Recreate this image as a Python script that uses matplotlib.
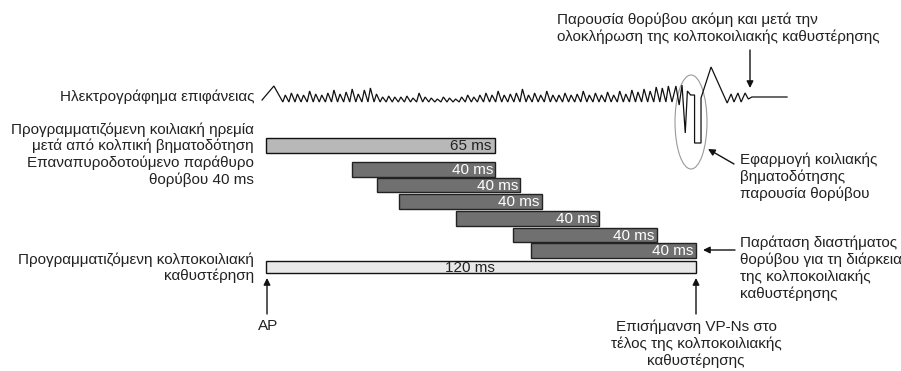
import numpy as np
import matplotlib
matplotlib.use("Agg")
import matplotlib.pyplot as plt
import matplotlib.transforms as mtransforms
from matplotlib.patches import Ellipse

plt.rcParams['font.family'] = ['Liberation Sans', 'DejaVu Sans']

# timing data (ms)
av_delay = 120
quiet_end = 64          # drawn length of the 65 ms bar
quiet_label = "65 ms"
noise_start = [24, 31, 37, 53, 69, 74]
noise_end = [64, 71, 77, 93, 109, 120]
noise_label = "40 ms"
av_label = "120 ms"

# surface ECG: tooth heights (px above baseline) of the noise
tooth_h = [7, 9, 8, 7, 11, 8, 7, 9, 12, 8, 10, 13, 8, 12, 14, 8,
           5, 6, 5, 5, 6, 4, 9, 5, 4, 3, 5, 4, 3, 5, 7, 5,
           7, 9, 7, 11, 7, 8, 9, 13, 7, 9, 7, 11, 7, 7, 9, 7, 8, 11, 7, 9,
           7, 10, 7, 11, 8, 12, 10, 13, 11, 15, 14, 16]
p_wave_t = [-1.1, 2.2, 4.7]
p_wave_y = [100, 86, 102]
pace_t = [113.3, 114.4, 115.3, 116.1, 117.0, 117.6, 118.5, 119.6, 119.6, 121.4,
          121.4, 124.2, 128.7, 129.8, 130.6, 131.7, 132.6, 133.7, 134.6, 135.6, 145.4]
pace_y = [102, 86, 105, 85, 133, 91, 95, 95, 143, 143,
          98, 67, 103, 94, 102, 93, 102, 93, 99, 97, 97]

W, H = 901, 371
T0 = 266              # pixel of AP
PX_MS = 430 / 120     # pixels per ms

fig = plt.figure(figsize=(W / 100, H / 100), dpi=100)
ax = fig.add_axes([0, 0, 1, 1])
ax.set_xlim(-T0 / PX_MS, (W - T0) / PX_MS)
ax.set_ylim(H, 0)
ax.axis('off')
pix = mtransforms.Affine2D().scale(1 / W, -1 / H).translate(0, 1) + fig.transFigure

fs = 11
tc = '#222222'

# ECG trace: each tooth rises steeply then falls back
base = 102
edges = np.linspace(4.7, 113.3, len(tooth_h) + 1)
ecg_t = list(p_wave_t)
ecg_y = list(p_wave_y)
for i, h in enumerate(tooth_h):
    ecg_t += [edges[i] + 0.4 * (edges[i + 1] - edges[i]), edges[i + 1]]
    ecg_y += [base - h, base]
ecg_t += pace_t[1:]
ecg_y += pace_y[1:]
ax.plot(ecg_t, ecg_y, color='#111111', lw=0.9, solid_joinstyle='miter')

# bars
ax.barh(145.5, quiet_end, left=0, height=15, color='#b8b8b8', edgecolor='#111111', lw=1)
ax.text(quiet_end - 1.1, 146, quiet_label, ha='right', va='center', fontsize=fs, color=tc)
rows = [169.5, 185, 201.5, 218.5, 235, 250.5]
for s, e, y in zip(noise_start, noise_end, rows):
    ax.barh(y, e - s, left=s, height=14.5, color='#707070', edgecolor='#222222', lw=1)
    ax.text(e - 0.6, y + 0.5, noise_label, ha='right', va='center', fontsize=fs, color='white')
ax.barh(267, av_delay, left=0, height=12, color='#e8e8e8', edgecolor='#111111', lw=1)
ax.text(57, 267.5, av_label, ha='center', va='center', fontsize=fs, color=tc)

# left labels
left_lines = [("Ηλεκτρογράφημα επιφάνειας", 97),
              ("Προγραμματιζόμενη κοιλιακή ηρεμία", 130),
              ("μετά από κολπική βηματοδότηση", 146),
              ("Επαναπυροδοτούμενο παράθυρο", 163),
              ("θορύβου 40 ms", 180),
              ("Προγραμματιζόμενη κολποκοιλιακή", 260),
              ("καθυστέρηση", 276)]
for s, y in left_lines:
    ax.text(254, y, s, transform=pix, ha='right', va='center', fontsize=fs, color=tc)

# right / top annotations
for s, y in [("Παρουσία θορύβου ακόμη και μετά την", 20),
             ("ολοκλήρωση της κολποκοιλιακής καθυστέρησης", 37)]:
    ax.text(557, y, s, transform=pix, ha='left', va='center', fontsize=fs, color=tc)
for s, y in [("Εφαρμογή κοιλιακής", 160), ("βηματοδότησης", 177), ("παρουσία θορύβου", 194)]:
    ax.text(740, y, s, transform=pix, ha='left', va='center', fontsize=fs, color=tc)
for s, y in [("Παράταση διαστήματος", 243), ("θορύβου για τη διάρκεια", 260),
             ("της κολποκοιλιακής", 277), ("καθυστέρησης", 294)]:
    ax.text(740, y, s, transform=pix, ha='left', va='center', fontsize=fs, color=tc)
ax.text(268, 326, "AP", transform=pix, ha='center', va='center', fontsize=fs, color=tc)
for s, y in [("Επισήμανση VP-Ns στο", 327), ("τέλος της κολποκοιλιακής", 344),
             ("καθυστέρησης", 361)]:
    ax.text(696, y, s, transform=pix, ha='center', va='center', fontsize=fs, color=tc)

# arrows
ap = dict(arrowstyle='-|>', color='#111111', lw=1, mutation_scale=10, shrinkA=0, shrinkB=0)
arrows = [((750, 88), (750, 50)),
          ((708, 149), (734, 164)),
          ((703, 250), (735, 250)),
          ((267, 278), (267, 314)),
          ((696, 278), (696, 314))]
for tip, tail in arrows:
    ax.annotate('', xy=tip, xytext=tail, xycoords=pix, textcoords=pix, arrowprops=ap)

ax.add_patch(Ellipse((691, 122), 32, 94, transform=pix, fill=False,
                     edgecolor='#9a9a9a', lw=0.8))

fig.savefig('out.png', dpi=100)
